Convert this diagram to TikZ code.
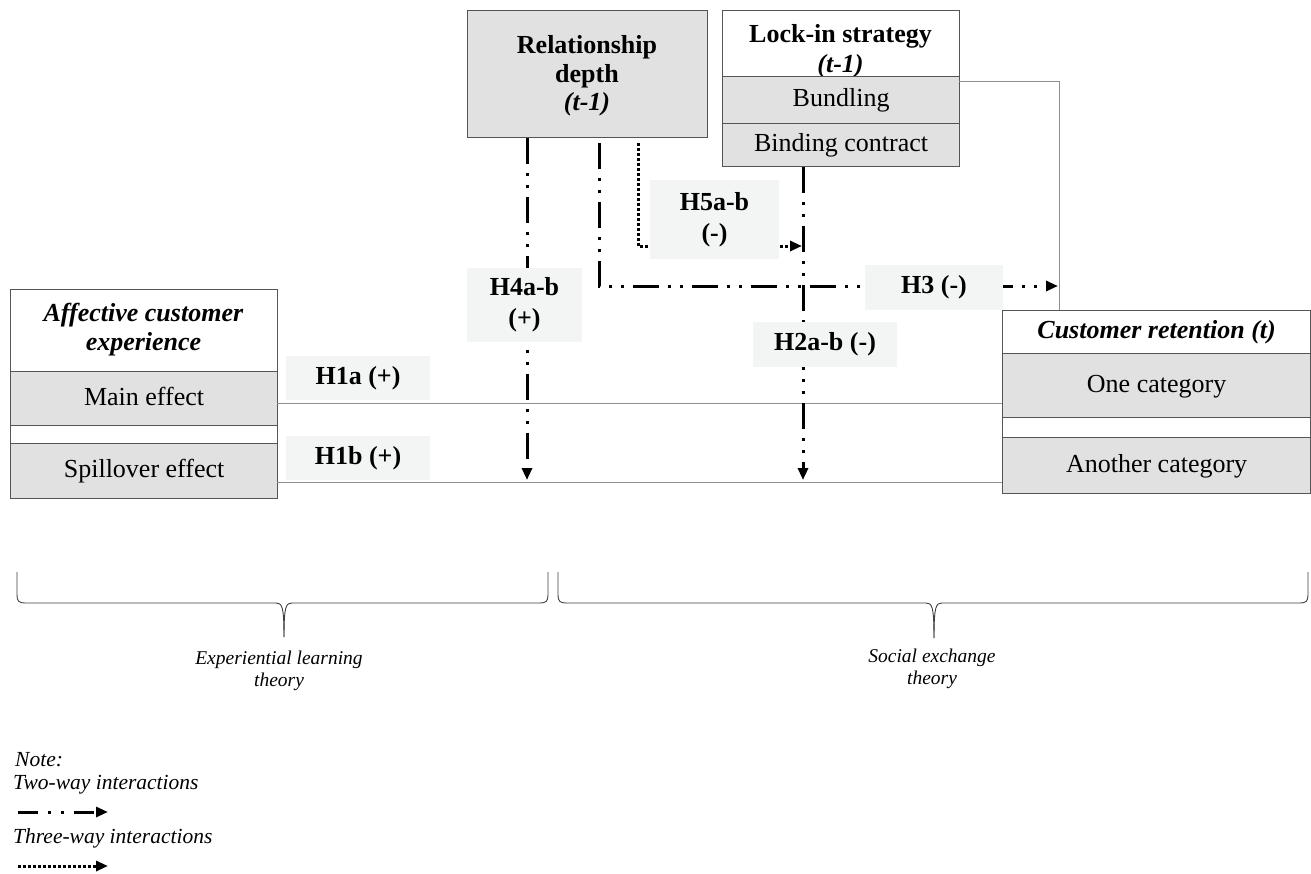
\documentclass[tikz,border=0pt]{standalone}
\usepackage{fontspec}
\setmainfont{Liberation Serif}
\usetikzlibrary{arrows.meta}
\definecolor{boxgray}{HTML}{E1E1E1}
\definecolor{lblfill}{HTML}{F3F5F5}
\definecolor{boxline}{HTML}{555555}
\definecolor{connline}{HTML}{8F8F8F}
\begin{document}
\begin{tikzpicture}[x=1pt,y=-1pt,
  box/.style={draw=boxline, line width=1.2pt, inner sep=0pt, anchor=north west, align=center,
    text height=18pt, text depth=5pt, font=\fontsize{26}{30}\selectfont},
  shadebox/.style={box, fill=boxgray},
  whitebox/.style={box, fill=white},
  hdtext/.style={anchor=base, inner sep=0pt, font=\fontsize{26}{30}\selectfont},
  lbl/.style={fill=lblfill, inner sep=0pt, align=center, font=\fontsize{26}{31}\selectfont\bfseries},
  conn/.style={draw=connline, line width=1pt},
  twoway/.style={line width=3pt, dash pattern=on 26pt off 9pt on 3pt off 9pt on 3pt off 9pt,
    -{Triangle[length=12pt,width=10pt]}},
  threeway/.style={line width=3pt, dash pattern=on 2.5pt off 2.5pt,
    -{Triangle[length=12pt,width=10pt]}},
  bracepath/.style={draw=black!75, line width=0.9pt},
  bracetext/.style={font=\fontsize{19.5}{22.5}\selectfont\itshape, align=center, inner sep=0pt},
  notetext/.style={font=\fontsize{21.5}{24}\selectfont\itshape, anchor=base west, inner sep=0pt}
]
\useasboundingbox[fill=white] (0,0) rectangle (1311,873);

% Relationship depth
\node[shadebox, minimum width=240pt, minimum height=127pt] (rd) at (467,10) {};
\node[hdtext] (rdt1) at (587,53) {\textbf{Relationship}};
\node[hdtext] (rdt2) at (587,82) {\textbf{depth}};
\node[hdtext] (rdt3) at (587,110) {\textbf{\textit{(t-1)}}};

% Lock-in strategy
\node[whitebox, minimum width=237pt, minimum height=66pt] (lockin) at (722,10) {};
\node[hdtext] (lit1) at (840.5,42) {\textbf{Lock-in strategy}};
\node[hdtext] (lit2) at (840.5,72) {\textbf{\textit{(t-1)}}};
\node[shadebox, minimum width=237pt, minimum height=47pt] (bund) at (722,76) {Bundling};
\node[shadebox, minimum width=237pt, minimum height=43pt] (bind) at (722,123) {Binding contract};

% Affective customer experience
\node[whitebox, minimum width=267pt, minimum height=82pt] (ace) at (10,289) {};
\node[hdtext] (act1) at (143.5,321) {\textbf{\textit{Affective customer}}};
\node[hdtext] (act2) at (143.5,350) {\textbf{\textit{experience}}};
\node[shadebox, minimum width=267pt, minimum height=54pt] (main) at (10,371) {Main effect};
\node[whitebox, minimum width=267pt, minimum height=18pt] (gapa) at (10,425) {};
\node[shadebox, minimum width=267pt, minimum height=55pt] (spill) at (10,443) {Spillover effect};

% Customer retention
\node[whitebox, minimum width=308pt, minimum height=43pt] (cr) at (1002,310) {\textbf{\textit{Customer retention (t)}}};
\node[shadebox, minimum width=308pt, minimum height=64pt] (one) at (1002,353) {One category};
\node[whitebox, minimum width=308pt, minimum height=20pt] (gapb) at (1002,417) {};
\node[shadebox, minimum width=308pt, minimum height=56pt] (another) at (1002,437) {Another category};

% coordinates
\coordinate (l1s) at (277,403);
\coordinate (l1e) at (1002,403);
\coordinate (l2s) at (277,482);
\coordinate (l2e) at (1002,482);
\coordinate (r1) at (959,81);
\coordinate (r2) at (1059,81);
\coordinate (h4e) at (527,480);
\coordinate (h2e) at (803,480);
\coordinate (h3s) at (599,143);
\coordinate (h3c) at (599,286);
\coordinate (h3e) at (1058,286);
\coordinate (h5s) at (638,143);
\coordinate (h5c) at (638,246);
\coordinate (h5e) at (802,246);

% thin connectors
\draw[conn] (l1s) -- (l1e);
\draw[conn] (l2s) -- (l2e);
\draw[conn] (r1) -- (r2) -- (r2 |- cr.north);

% interaction connectors
\draw[twoway] (h4e |- rd.south) -- (h4e);
\draw[twoway] (h2e |- bind.south) -- (h2e);
\draw[twoway] (h3s) -- (h3c) -- (h3e);
\draw[threeway] (h5s) -- (h5c) -- (h5e);

% labels
\node[lbl, minimum width=129pt, minimum height=79pt] (h5) at (714.5,219.5) {H5a-b\\(-)};
\node[lbl, minimum width=115pt, minimum height=74pt] (h4) at (524.5,305) {H4a-b\\(+)};
\node[lbl, minimum width=138pt, minimum height=45pt] (h3) at (934,287.5) {H3 (-)};
\node[lbl, minimum width=144pt, minimum height=45pt] (h2) at (825,344.5) {H2a-b (-)};
\node[lbl, minimum width=144pt, minimum height=44pt] (h1a) at (358,378) {H1a (+)};
\node[lbl, minimum width=144pt, minimum height=44pt] (h1b) at (358,458) {H1b (+)};

% braces
\draw[bracepath] (17,572) -- (17,595) .. controls (17,601) and (19,603) .. (25,603) -- (276,603)
  .. controls (282,603) and (284,606) .. (284,637);
\draw[bracepath] (548,572) -- (548,595) .. controls (548,601) and (546,603) .. (540,603) -- (292,603)
  .. controls (286,603) and (284,606) .. (284,637);
\draw[bracepath] (558,572) -- (558,595) .. controls (558,601) and (560,603) .. (566,603) -- (926,603)
  .. controls (932,603) and (934,606) .. (934,638);
\draw[bracepath] (1308,572) -- (1308,595) .. controls (1308,601) and (1306,603) .. (1300,603) -- (942,603)
  .. controls (936,603) and (934,606) .. (934,638);
\node[bracetext] (elt) at (279,671) {Experiential learning\\theory};
\node[bracetext] (set) at (932,669) {Social exchange\\theory};

% note
\node[notetext] (note) at (15,766) {Note:};
\node[notetext] (two) at (13,789) {Two-way interactions};
\node[notetext] (three) at (13,843) {Three-way interactions};
\coordinate (ta) at (18,812);
\coordinate (tb) at (108,812);
\coordinate (tc) at (18,866);
\coordinate (td) at (108,866);
\draw[line width=3pt, dash pattern=on 20pt off 10pt on 3pt off 10pt on 3pt off 10pt,
  -{Triangle[length=12pt,width=10pt]}] (ta) -- (tb);
\draw[threeway] (tc) -- (td);
\end{tikzpicture}
\end{document}
